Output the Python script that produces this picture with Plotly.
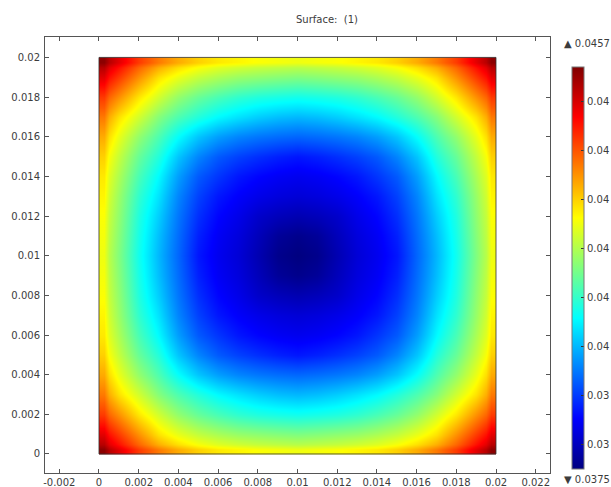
import plotly.graph_objects as go

# bin edges of the first quadrant; bins are mirrored about 0.01
quad_edges = [0, 0.0005, 0.0015, 0.0025, 0.0035, 0.0045, 0.0055, 0.0065, 0.0075, 0.0085, 0.0095]
quad_values = [
    [0.04560, 0.04490, 0.04420, 0.04370, 0.04330, 0.04300, 0.04280, 0.04270, 0.04260, 0.04255, 0.04250],
    [0.04490, 0.04420, 0.04350, 0.04285, 0.04245, 0.04215, 0.04195, 0.04180, 0.04172, 0.04165, 0.04160],
    [0.04420, 0.04350, 0.04280, 0.04225, 0.04175, 0.04140, 0.04115, 0.04095, 0.04082, 0.04075, 0.04070],
    [0.04370, 0.04285, 0.04225, 0.04165, 0.04120, 0.04085, 0.04055, 0.04035, 0.04018, 0.04006, 0.04000],
    [0.04330, 0.04245, 0.04175, 0.04120, 0.04060, 0.04012, 0.03980, 0.03960, 0.03948, 0.03940, 0.03935],
    [0.04300, 0.04215, 0.04140, 0.04085, 0.04012, 0.03960, 0.03925, 0.03905, 0.03890, 0.03878, 0.03870],
    [0.04280, 0.04195, 0.04115, 0.04055, 0.03980, 0.03925, 0.03895, 0.03870, 0.03855, 0.03845, 0.03840],
    [0.04270, 0.04180, 0.04095, 0.04035, 0.03960, 0.03905, 0.03870, 0.03850, 0.03835, 0.03825, 0.03820],
    [0.04260, 0.04172, 0.04082, 0.04018, 0.03948, 0.03890, 0.03855, 0.03835, 0.03810, 0.03797, 0.03790],
    [0.04255, 0.04165, 0.04075, 0.04006, 0.03940, 0.03878, 0.03845, 0.03825, 0.03797, 0.03770, 0.03760],
    [0.04250, 0.04160, 0.04070, 0.04000, 0.03935, 0.03870, 0.03840, 0.03820, 0.03790, 0.03760, 0.03750],
]
tick_x = [-0.002, 0, 0.002, 0.004, 0.006, 0.008, 0.01, 0.012, 0.014, 0.016, 0.018, 0.02, 0.022]
tick_x_text = ["-0.002", "0", "0.002", "0.004", "0.006", "0.008", "0.01", "0.012", "0.014", "0.016", "0.018", "0.02", "0.022"]
tick_y = [0, 0.002, 0.004, 0.006, 0.008, 0.01, 0.012, 0.014, 0.016, 0.018, 0.02]
tick_y_text = ["0", "0.002", "0.004", "0.006", "0.008", "0.01", "0.012", "0.014", "0.016", "0.018", "0.02"]
bar_ticks = [0.038, 0.039, 0.04, 0.041, 0.042, 0.043, 0.044, 0.045]
# as far as the reference shows them (it ends at the window edge)
bar_text = ["0.03", "0.03", "0.04", "0.04", "0.04", "0.04", "0.04", "0.04"]
z_max = 0.0457
z_min = 0.0375
title_text = "Surface:\u00a0 (1)"

edges = quad_edges + [0.01 + (0.01 - e) for e in reversed(quad_edges)]
rows = [r + r[-2::-1] for r in quad_values]
z = rows + rows[-2::-1]

jet = [[0, "rgb(0,0,128)"], [0.125, "rgb(0,0,255)"], [0.375, "rgb(0,255,255)"],
       [0.625, "rgb(255,255,0)"], [0.875, "rgb(255,0,0)"], [1, "rgb(128,0,0)"]]

L, R, T, B = 45, 550, 37, 473
W, H = 611, 487
PW, PH = R - L, B - T
TXT = "#3c3c3c"
AX = "#555555"

fig = go.Figure(go.Heatmap(
    x=edges, y=edges, z=z, zmin=z_min, zmax=z_max, zsmooth="best", colorscale=jet,
    hoverinfo="skip",
    colorbar=dict(
        x=(572 - L) / PW, xanchor="left", xpad=0, ypad=0,
        y=(B - 469) / PH, yanchor="bottom", len=402, lenmode="pixels",
        thickness=12, thicknessmode="pixels",
        outlinecolor="#777777", outlinewidth=1,
        tickmode="array", tickvals=bar_ticks, ticktext=bar_text,
        tickprefix="\u00a0\u00a0",
        ticks="inside", ticklen=3, tickcolor="#333333", tickwidth=1,
        tickfont=dict(family="DejaVu Sans", size=10, color=TXT),
    ),
))
axis = dict(showgrid=False, zeroline=False, showline=True, linecolor=AX, linewidth=1,
            mirror="ticks", ticks="inside", ticklen=4, tickcolor=AX, tickwidth=1,
            tickmode="array", tickfont=dict(family="DejaVu Sans", size=10, color=TXT))
fig.update_xaxes(axis, range=[-0.00272, 0.02272], tickvals=tick_x, ticktext=tick_x_text)
fig.update_yaxes(axis, range=[-0.00096, 0.02103], tickvals=tick_y, ticktext=tick_y_text, ticklabelstandoff=2)
fig.add_shape(type="rect", x0=0, x1=0.02, y0=0, y1=0.02, line=dict(color="rgba(50,50,50,0.8)", width=1))
for text, py in ((f"\u25b2 {z_max}", 43), (f"\u25bc {z_min}", 479)):
    fig.add_annotation(text=text, xref="paper", yref="paper", x=(563 - L) / PW, y=(B - py) / PH,
                       xanchor="left", yanchor="middle", showarrow=False,
                       font=dict(family="DejaVu Sans", size=10, color=TXT), borderpad=0)
fig.update_layout(
    width=W, height=H, paper_bgcolor="white", plot_bgcolor="white",
    margin=dict(l=L, r=W - R, t=T, b=H - B, autoexpand=False),
    title=dict(text=title_text, x=327 / W, xanchor="center", y=1 - 19 / H, yanchor="middle",
               font=dict(family="DejaVu Sans", size=10, color=TXT)),
)
fig.write_html("out.html", config={"displayModeBar": False},
               post_script="document.body.style.margin='0';document.body.style.overflow='hidden';")
